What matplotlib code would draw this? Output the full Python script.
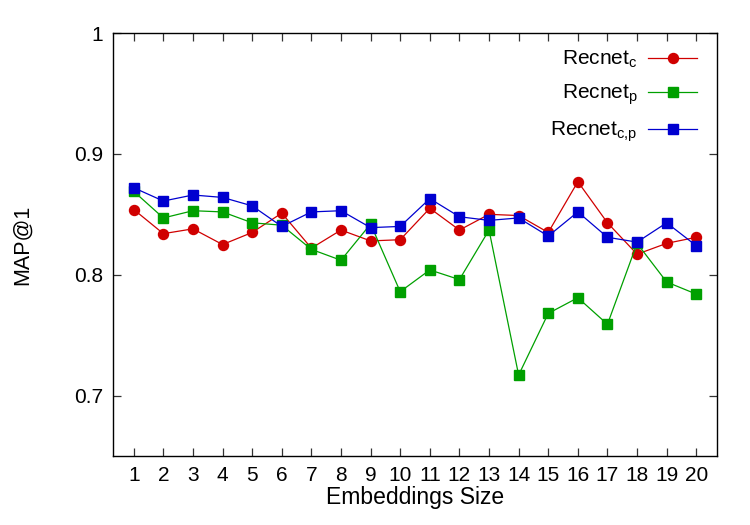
import matplotlib
matplotlib.use("Agg")
import matplotlib.pyplot as plt

sizes = list(range(1, 21))
recnet_c = [0.854, 0.834, 0.838, 0.825, 0.835, 0.851, 0.822, 0.837, 0.828, 0.829,
            0.855, 0.837, 0.850, 0.849, 0.835, 0.877, 0.843, 0.817, 0.826, 0.831]
recnet_p = [0.869, 0.847, 0.853, 0.852, 0.843, 0.841, 0.821, 0.812, 0.842, 0.786,
            0.804, 0.796, 0.837, 0.717, 0.768, 0.781, 0.759, 0.826, 0.794, 0.784]
recnet_cp = [0.872, 0.861, 0.866, 0.864, 0.857, 0.840, 0.852, 0.853, 0.839, 0.840,
             0.863, 0.848, 0.845, 0.847, 0.832, 0.852, 0.831, 0.827, 0.843, 0.824]
labels = [r"Recnet$_{\mathrm{c}}$", r"Recnet$_{\mathrm{p}}$", r"Recnet$_{\mathrm{c{,}p}}$"]
y_ticks = [0.7, 0.8, 0.9, 1.0]
y_tick_labels = ["0.7", "0.8", "0.9", "1"]

plt.rcParams["font.family"] = ["Liberation Sans", "DejaVu Sans"]
plt.rcParams["mathtext.fontset"] = "custom"
plt.rcParams["mathtext.rm"] = "Liberation Sans"
plt.rcParams["mathtext.it"] = "Liberation Sans:italic"

fig = plt.figure(figsize=(7.5, 5.25), dpi=100)
ax = fig.add_axes([0.1507, 0.1314, 0.8053, 0.8056])

ax.plot(sizes, recnet_c, color="#d00000", marker="o", markersize=7.2, lw=0.9, label=labels[0])
ax.plot(sizes, recnet_p, color="#00a000", marker="s", markersize=7.0, lw=0.9, label=labels[1])
ax.plot(sizes, recnet_cp, color="#0000d0", marker="s", markersize=7.0, lw=0.9, label=labels[2])

ax.set_xlim(0.3, 20.7)
ax.set_ylim(0.65, 1.0)
ax.set_xticks(sizes)
ax.set_yticks(y_ticks)
ax.set_yticklabels(y_tick_labels)
ax.tick_params(direction="in", length=6, width=0.9, labelsize=15, top=True, right=True,
               color="#333333", pad=7)
for s in ax.spines.values():
    s.set_linewidth(1.0)

ax.set_xlabel("Embeddings Size", fontsize=16.5, labelpad=1)
ax.set_ylabel("MAP@1", fontsize=15.5, labelpad=30)

leg = ax.legend(loc="upper right", frameon=False, markerfirst=False, fontsize=15,
                handlelength=2.35, handletextpad=0.5, labelspacing=0.6,
                borderpad=0, borderaxespad=0, bbox_to_anchor=(0.967, 0.962))

fig.savefig("out.png", dpi=100)
